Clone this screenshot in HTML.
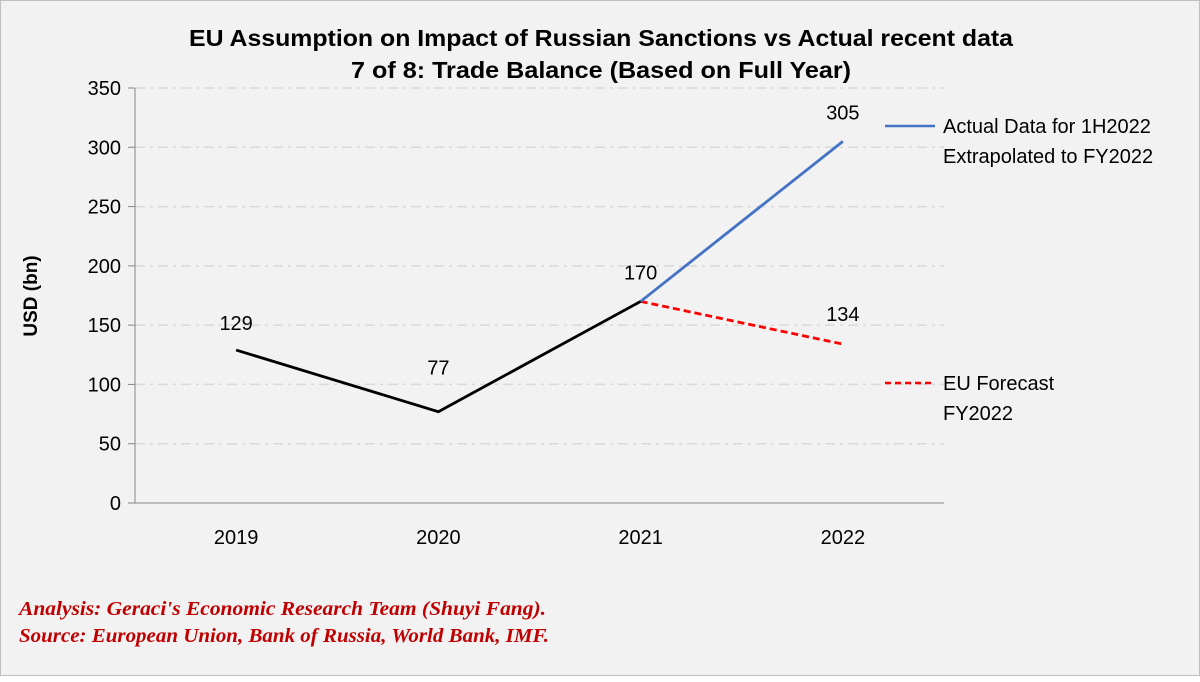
<!DOCTYPE html>
<html><head><meta charset="utf-8"><style>
body{margin:0;background:#fff}
#c{position:absolute;left:0;top:0;width:1198px;height:674px;background:#f2f2f2;border:1px solid #bfbfbf}
svg text{font-family:"Liberation Sans",Calibri,sans-serif}
</style></head><body>
<div id="c">
<svg id="s" width="1200" height="676" xmlns="http://www.w3.org/2000/svg">
<text x="600" y="45" text-anchor="middle" font-size="23" font-weight="bold" textLength="824" lengthAdjust="spacingAndGlyphs">EU Assumption on Impact of Russian Sanctions vs Actual recent data</text>
<text x="600" y="77" text-anchor="middle" font-size="23" font-weight="bold" textLength="500" lengthAdjust="spacingAndGlyphs">7 of 8: Trade Balance (Based on Full Year)</text>
<text transform="translate(36,295) rotate(-90)" text-anchor="middle" font-size="19" font-weight="bold">USD (bn)</text>
<g id="grid"></g><g id="marks"></g>
<line x1="884" y1="125" x2="934" y2="125" stroke="#4472c4" stroke-width="2.5"/>
<text x="942" y="132" font-size="20">Actual Data for 1H2022</text>
<text x="942" y="162" font-size="20">Extrapolated to FY2022</text>
<line x1="884" y1="382" x2="934" y2="382" stroke="#ff0000" stroke-width="2.5" stroke-dasharray="6,4"/>
<text x="942" y="389" font-size="20">EU Forecast</text>
<text x="942" y="419" font-size="20">FY2022</text>
<text x="18" y="614" font-size="20" font-style="italic" font-weight="bold" fill="#c00000" style="font-family:'Liberation Serif',serif" textLength="527" lengthAdjust="spacingAndGlyphs">Analysis: Geraci's Economic Research Team (Shuyi Fang).</text>
<text x="18" y="641" font-size="20" font-style="italic" font-weight="bold" fill="#c00000" style="font-family:'Liberation Serif',serif" textLength="530" lengthAdjust="spacingAndGlyphs">Source: European Union, Bank of Russia, World Bank, IMF.</text>
</svg></div>
<script>
const categories=["2019","2020","2021","2022"];
const historical=[129,77,170,null];
const actual=[null,null,170,305];
const forecast=[null,null,170,134];
const yTicks=[0,50,100,150,200,250,300,350];
const NS="http://www.w3.org/2000/svg";
const x0=134,x1=943,y0=502,yTop=87;
const bw=(x1-x0)/categories.length;
const X=i=>x0+bw*(i+0.5);
const Y=v=>y0-(v/350)*(y0-yTop);
function mk(t,a,p){const e=document.createElementNS(NS,t);for(const k in a)e.setAttribute(k,a[k]);p.appendChild(e);return e;}
const g=document.getElementById('grid'),m=document.getElementById('marks');
yTicks.forEach(v=>{
 if(v>0){const l=mk('line',{x1:x0,x2:x1,y1:Y(v),y2:Y(v),stroke:'#d9d9d9','stroke-width':1.5,'stroke-dasharray':'10,5,3,5'},g);
 
 }
 const tk=mk('line',{x1:x0-7,x2:x0,y1:Y(v),y2:Y(v),stroke:'#868686'},g);
 
 
 const t=mk('text',{x:x0-14,y:Y(v)+7,'text-anchor':'end','font-size':20},g);t.textContent=v;
 
 
});
const ya=mk('line',{x1:x0,x2:x0,y1:yTop,y2:y0,stroke:'#868686'},g);


const xa=mk('line',{x1:x0,x2:x1,y1:y0,y2:y0,stroke:'#868686'},g);


categories.forEach((c,i)=>{
 const t=mk('text',{x:X(i),y:y0+41,'text-anchor':'middle','font-size':20},g);t.textContent=c;
 
 
});
function series(arr,stroke,dash,name){
 const pts=[];arr.forEach((v,i)=>{if(v!=null)pts.push(X(i)+','+Y(v));});
 const a={points:pts.join(' '),fill:'none',stroke:stroke,'stroke-width':2.8};
 if(dash)a['stroke-dasharray']=dash;
 const p=mk('polyline',a,m);
 
 
}
series(forecast,'#ff0000','7,4','forecast-line');
series(actual,'#4472c4',null,'actual-line');
series(historical,'#000000',null,'historical-line');
function lab(i,v,dy){const t=mk('text',{x:X(i),y:Y(v)+dy,'text-anchor':'middle','font-size':20},m);t.textContent=v;
 
 }
lab(0,historical[0],-20);lab(1,historical[1],-37);lab(2,historical[2],-22);
lab(3,actual[3],-22);lab(3,forecast[3],-23);
</script>
</body></html>
